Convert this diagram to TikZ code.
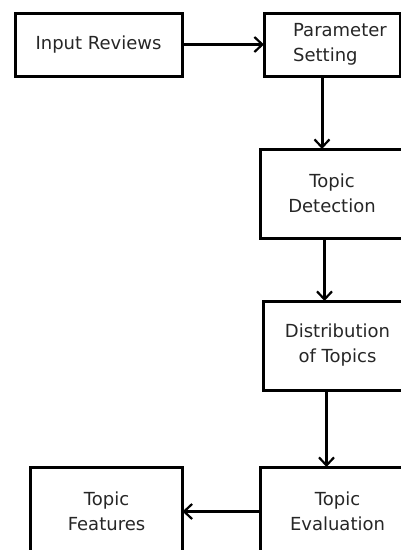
\documentclass[tikz,border=0pt]{standalone}
\usepackage{fontspec}
\setmainfont{DejaVu Sans}
\usetikzlibrary{positioning,arrows.meta}

\begin{document}
\begin{tikzpicture}
[every node/.style={draw=black,line width=3pt,inner sep=0pt,outer sep=0pt,
   font=\fontsize{18}{25}\selectfont,align=center,text=black!85},
 stage/.style={rectangle,minimum height=89pt},
 flat/.style={rectangle,minimum height=63pt},
 flow/.style={-{Straight Barb[length=8pt,width=15pt,line width=2.2pt]},line width=3pt}]
\useasboundingbox (0,0) rectangle (401pt,-550pt);
\clip (0,0) rectangle (401pt,-550pt);
\node[flat,minimum width=167pt] (inrev) at (98.5pt,-44.5pt) {Input Reviews};
\node[flat,minimum width=136pt,align=left] (param) [on grid,right=233.5pt of inrev] {\hspace*{16pt}Parameter\\\hspace*{16pt}Setting};
\node[stage,minimum width=143pt] (detect)  [on grid,below=149pt of param]                {Topic\\Detection};
\node[stage,minimum width=148pt] (distrib) [on grid,below right=152pt and 5.5pt of detect] {Distribution\\of Topics};
\node[stage,minimum width=154pt] (evalu)   [on grid,below=166pt of distrib]              {Topic\\Evaluation};
\node[stage,minimum width=152pt] (feat)    [on grid,left=231pt of evalu]                 {Topic\\Features};
\draw[flow] (inrev) -- (param);
\draw[flow] ([xshift=-10pt]param.south)  -- ([xshift=-10pt]param.south |- detect.north);
\draw[flow] ([xshift=-7.5pt]detect.south) -- ([xshift=-7.5pt]detect.south |- distrib.north);
\draw[flow] ([xshift=-11pt]distrib.south) -- ([xshift=-11pt]distrib.south |- evalu.north);
\draw[flow] (evalu) -- (feat);
\end{tikzpicture}
\end{document}
